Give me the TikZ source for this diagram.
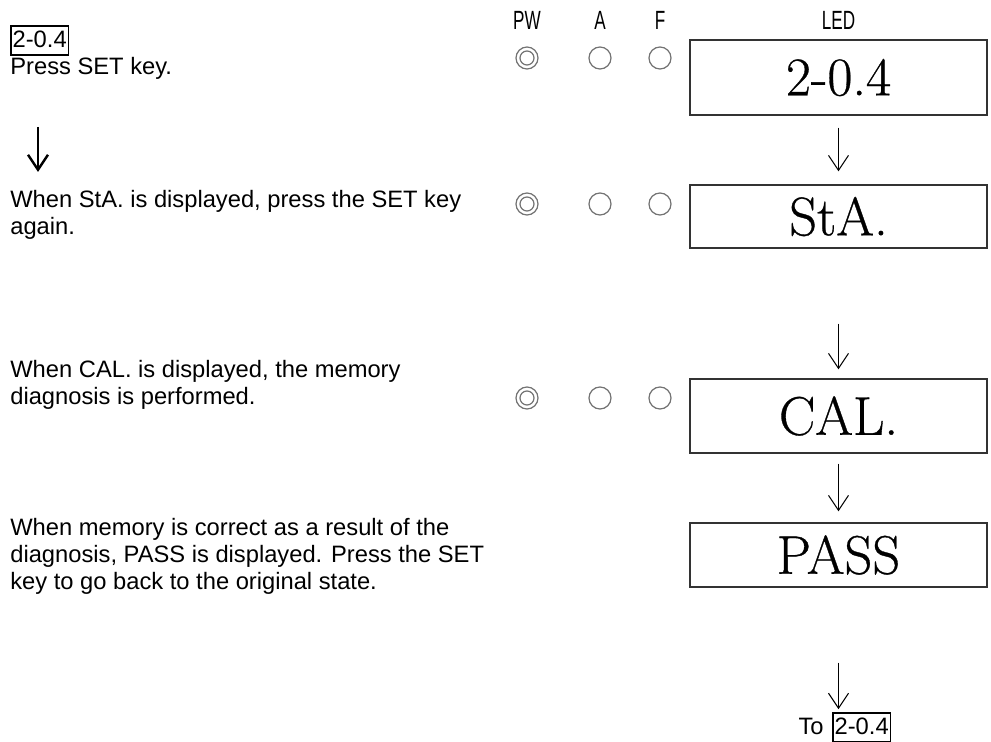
\documentclass[tikz,border=0pt]{standalone}
\usepackage{fontspec}
\newfontfamily\arial{Liberation Sans}
\newfontfamily\ledfont{Latin Modern Roman}[FakeBold=0.6]
\usetikzlibrary{arrows.meta}

\begin{document}
\begin{tikzpicture}[x=0.02cm, y=-0.02cm,
  >={Straight Barb[length=0.3cm,width=0.4cm]},
  txt/.style={anchor=north west, inner sep=0pt, align=left, font=\arial\fontsize{13.5}{15.4}\selectfont},
  hdr/.style={font=\arial\fontsize{15}{17}\selectfont},
  lamp/.style={draw=black!55, line width=0.7pt, circle, minimum size=0.44cm, inner sep=0pt},
  ledbox/.style={draw=black!80, line width=0.8pt, minimum width=5.94cm, inner sep=0pt, font=\ledfont\fontsize{31}{34}\selectfont},
  keybox/.style={draw, line width=1pt, inner xsep=1pt, inner ysep=0.5pt, text height=12pt, text depth=3.5pt, font=\arial\fontsize{13.5}{15.4}\selectfont}]
  \useasboundingbox (0,0) rectangle (991,742);

  % column heads
  \node[hdr] (hpw) at (527,20) {\scalebox{0.65}[1]{PW}};
  \node[hdr] (ha) at (600,20) {\scalebox{0.65}[1]{A}};
  \node[hdr] (hf) at (660,20) {\scalebox{0.65}[1]{F}};
  \node[hdr] (hled) at (838.5,20) {\scalebox{0.65}[1]{LED}};

  % lamps
  \foreach \y/\n in {58/a, 204/b, 398/c} {
    \node[lamp] (pw\n) at (527,\y) {};
    \node[lamp, minimum size=0.28cm] at (pw\n) {};
    \node[lamp] (a\n) at (600,\y) {};
    \node[lamp] (f\n) at (660,\y) {};
  }

  % LED display
  \node[ledbox, minimum height=1.5cm] (led1) at (838.5,77.5) {2-0.4};
  \node[ledbox, minimum height=1.26cm] (led2) at (838.5,216.5) {StA.};
  \node[ledbox, minimum height=1.48cm] (led3) at (838.5,416) {CAL.};
  \node[ledbox, minimum height=1.28cm] (led4) at (838.5,555) {PASS};

  \node[keybox, anchor=base west] (back) at (832,735) {2-0.4};
  \node[txt, anchor=base east] (tolbl) at ([xshift=-0.16cm]back.base west) {To};

  \draw[->, line width=0.6pt, shorten <=0.24cm, shorten >=0.26cm] (led1.south) -- (led2.north);
  \draw[->, line width=0.6pt, shorten >=0.18cm] ([yshift=-1.5cm]led2.south) -- (led3.north);
  \draw[->, line width=0.6pt, shorten <=0.2cm, shorten >=0.22cm] (led3.south) -- (led4.north);
  \draw[->, line width=0.6pt, shorten >=0.06cm] ([yshift=-1.5cm]led4.south) -- (led4.south |- back.north);

  % steps
  \node[keybox, anchor=base west] (start) at (10,48) {2-0.4};
  \node[txt, anchor=base west] (press) at (10,75) {Press SET key.};
  \coordinate (down1) at (38,127);
  \coordinate (down2) at (38,172);
  \draw[->, line width=1.4pt] (down1) -- (down2);

  \node[txt] (sta) at (10,190) {When StA. is displayed, press the SET key\\again.};
  \node[txt] (cal) at (10,360) {When CAL. is displayed, the memory\\diagnosis is performed.};
  \node[txt] (pass) at (10,518) {When memory is correct as a result of the\\diagnosis, PASS is displayed. Press the SET\\key to go back to the original state.};
\end{tikzpicture}
\end{document}
